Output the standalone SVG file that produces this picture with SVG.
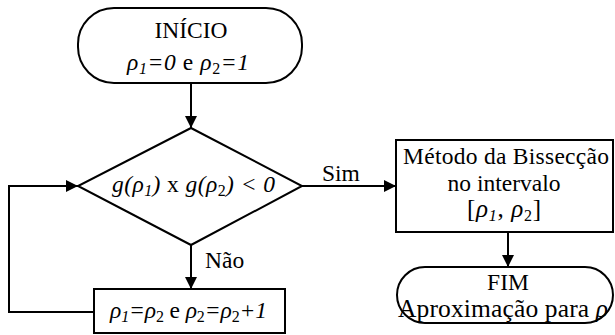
<svg xmlns="http://www.w3.org/2000/svg" width="615" height="335" viewBox="0 0 615 335">
<defs>
<marker id="arr" markerUnits="userSpaceOnUse" markerWidth="13" markerHeight="13" refX="12" refY="6" orient="auto">
<path d="M0,0 L12,6 L0,12 Z" fill="#000"/>
</marker>
<style>
.s{fill:#fff;stroke:#000;stroke-width:2}
.c{fill:none;stroke:#000;stroke-width:2;marker-end:url(#arr)}
.i{font-style:italic}
.sub{font-size:16px}
</style>
</defs>
<rect width="615" height="335" fill="#fff"/>
<g font-family="Liberation Serif, Times New Roman, serif" font-size="23.5" fill="#000">
<g id="connectors">
<line class="c" x1="191" y1="83" x2="191" y2="128"/>
<line class="c" x1="191" y1="245" x2="191" y2="289"/>
<polyline class="c" points="94,312 9,312 9,186 78,186"/>
<line class="c" x1="302" y1="186" x2="396" y2="186"/>
<line class="c" x1="508" y1="232" x2="508" y2="267"/>
<text x="322" y="181">Sim</text>
<text x="205" y="268">Não</text>
</g>
<g id="inicio">
<rect class="s" x="78" y="8" width="224" height="75" rx="36" ry="36"/>
<text x="191" y="38" text-anchor="middle">INÍCIO</text>
<text x="127" y="70" textLength="122" lengthAdjust="spacing"><tspan class="i">ρ</tspan><tspan class="i sub" dy="4">1</tspan><tspan class="i" dy="-4">=0</tspan> e <tspan class="i">ρ</tspan><tspan class="sub" dy="4">2</tspan><tspan class="i" dy="-4">=1</tspan></text>
</g>
<g id="decisao">
<polygon class="s" points="191,128 302,186 191,245 78,186"/>
<text x="112" y="192" textLength="163" lengthAdjust="spacing"><tspan class="i">g(ρ</tspan><tspan class="i sub" dy="4">1</tspan><tspan class="i" dy="-4">)</tspan> x <tspan class="i">g(ρ</tspan><tspan class="sub" dy="4">2</tspan><tspan class="i" dy="-4">) &lt; 0</tspan></text>
</g>
<g id="atualiza">
<rect class="s" x="94" y="289" width="191" height="44"/>
<text x="110" y="318" textLength="157" lengthAdjust="spacing"><tspan class="i">ρ</tspan><tspan class="i sub" dy="4">1</tspan><tspan class="i" dy="-4">=ρ</tspan><tspan class="sub" dy="4">2</tspan><tspan dy="-4"> e </tspan><tspan class="i">ρ</tspan><tspan class="sub" dy="4">2</tspan><tspan class="i" dy="-4">=ρ</tspan><tspan class="sub" dy="4">2</tspan><tspan class="i" dy="-4">+1</tspan></text>
</g>
<g id="bisseccao">
<rect class="s" x="396" y="140" width="217" height="92"/>
<text x="403" y="164" textLength="206" lengthAdjust="spacing">Método da Bissecção</text>
<text x="504" y="191" text-anchor="middle">no intervalo</text>
<text x="467" y="217" font-size="25" textLength="74" lengthAdjust="spacing">[<tspan class="i">ρ</tspan><tspan class="i sub" dy="4" font-size="17">1</tspan><tspan dy="-4">, </tspan><tspan class="i">ρ</tspan><tspan class="sub" dy="4" font-size="17">2</tspan><tspan dy="-4">]</tspan></text>
</g>
<g id="fim">
<rect class="s" x="397" y="267" width="216" height="56" rx="28" ry="28"/>
<text x="508" y="290" text-anchor="middle">FIM</text>
<text x="398" y="317" font-size="25.5" textLength="210" lengthAdjust="spacing">Aproximação para <tspan class="i">ρ</tspan></text>
</g>
</g>
</svg>
